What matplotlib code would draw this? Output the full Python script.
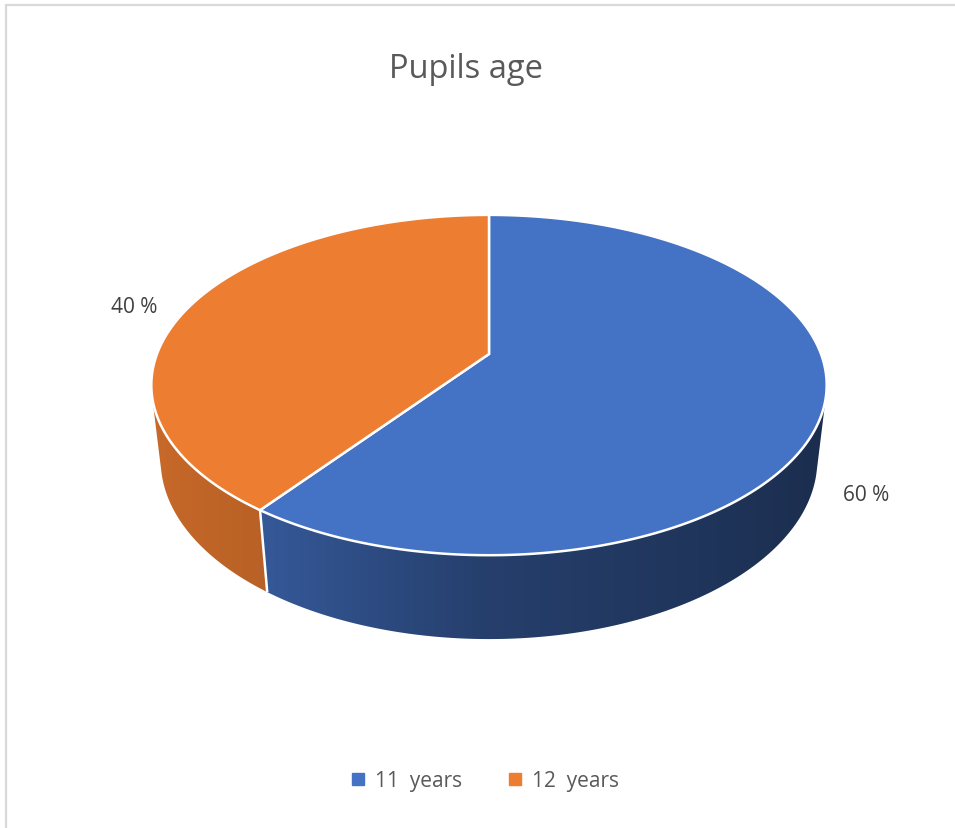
import numpy as np
import matplotlib
matplotlib.use("Agg")
import matplotlib.pyplot as plt
from matplotlib.patches import Polygon, Rectangle
from matplotlib.lines import Line2D
from matplotlib.colors import to_rgb

plt.rcParams['font.family'] = ['Open Sans', 'DejaVu Sans']

# data
categories = ["11  years", "12  years"]
shares = [60, 40]
labels = ["60 %", "40 %"]
colors = ["#4472c4", "#ed7d31"]
title = "Pupils age"

# 3-D view settings (unit-radius disc seen from above with perspective)
tilt = np.radians(29.7)
dist = 4.76
thick = 0.265

def project(theta, y, r=1.0):
    X = r * np.sin(theta)
    Z = r * np.cos(theta)
    up = y * np.cos(tilt) + Z * np.sin(tilt)
    depth = dist + Z * np.cos(tilt) - y * np.sin(tilt)
    return X * dist / depth, up * dist / depth

def shade(theta):
    s = np.sin(theta)
    return np.interp(s, [-1.0, -0.588, 0.0, 1.0], [0.85, 0.78, 0.55, 0.39])

W, H = 955, 829
fig = plt.figure(figsize=(W / 100, H / 100), dpi=100)
fig.patch.set_facecolor("white")

# chart-area frame
fig.patches.append(Rectangle((6 / W, -0.1), 1.2, (H - 6) / H + 0.1,
                             transform=fig.transFigure, fill=False,
                             edgecolor="#d9d9d9", linewidth=1.6))

scale = 332.0
cx, cy = 489.0, 355.0
x0, x1, y0, y1 = 80, 900, 190, 720
ax = fig.add_axes([x0 / W, (H - y1) / H, (x1 - x0) / W, (y1 - y0) / H])
xlim = ((x0 - cx) / scale, (x1 - cx) / scale)
ylim = ((cy - y1) / scale, (cy - y0) / scale)
ax.set_xlim(*xlim)
ax.set_ylim(*ylim)
ax.axis("off")

fractions = np.array(shares, dtype=float) / np.sum(shares)
bounds = np.concatenate([[0.0], np.cumsum(fractions)]) * 2 * np.pi

# outer wall: visible where the surface faces the camera
t_vis = np.arccos(-1.0 / (dist * np.cos(tilt)))
ncols = 800
col_x = np.linspace(xlim[0], xlim[1], ncols)
for i, col in enumerate(colors):
    a, b = max(bounds[i], t_vis), min(bounds[i + 1], 2 * np.pi - t_vis)
    if a >= b:
        continue
    th = np.linspace(a, b, 300)
    tx, ty = project(th, 0)
    bx, by = project(th, -thick)
    outline = np.column_stack([np.r_[tx, bx[::-1]], np.r_[ty, by[::-1]]])
    clip = Polygon(outline, closed=True, facecolor="none", edgecolor="none")
    ax.add_patch(clip)
    # horizontal gradient: screen x -> angle on the rim -> shade
    order = np.argsort(tx)
    th_at_x = np.interp(col_x, tx[order], th[order])
    rgb = np.clip(np.array(to_rgb(col))[None, :] * shade(th_at_x)[:, None], 0, 1)
    img = np.repeat(rgb[None, :, :], 2, axis=0)
    im = ax.imshow(img, extent=(xlim[0], xlim[1], ylim[0], ylim[1]),
                   aspect="auto", interpolation="bilinear", zorder=2)
    im.set_clip_path(clip)

ax.set_xlim(*xlim)
ax.set_ylim(*ylim)

# wall seams between slices
for t in bounds[1:-1]:
    if t_vis <= t <= 2 * np.pi - t_vis:
        xa, ya = project(t, 0)
        xb, yb = project(t, -thick)
        ax.plot([xa, xb], [ya, yb], color="white", lw=1.8, zorder=3,
                solid_capstyle="butt")

# top faces
for i, col in enumerate(colors):
    th = np.linspace(bounds[i], bounds[i + 1], 300)
    px, py = project(th, 0)
    pts = np.column_stack([np.r_[0.0, px], np.r_[0.0, py]])
    ax.add_patch(Polygon(pts, closed=True, facecolor=col, edgecolor="white",
                         linewidth=1.8, joinstyle="miter", zorder=4))

# data labels, placed just outside the rim
label_radius = [1.15, 1.2]
label_shift = [(0, 0), (0, -7)]
for i, lab in enumerate(labels):
    mid = 0.5 * (bounds[i] + bounds[i + 1])
    yl = -thick if np.cos(mid) < 0 else 0.0
    lx, ly = project(mid, yl, r=label_radius[i])
    ax.annotate(lab, (lx, ly), xytext=label_shift[i], textcoords="offset points",
                ha="center", va="center", fontsize=15, color="#404040", zorder=5)

fig.text(466 / W, (H - 69) / H, title, ha="center", va="center",
         fontsize=23.5, color="#595959")

handles = [Line2D([], [], marker="s", linestyle="none", markersize=8,
                  markerfacecolor=c, markeredgecolor=c) for c in colors]
fig.legend(handles, categories, loc="center", bbox_to_anchor=(483 / W, (H - 782) / H),
           ncol=2, frameon=False, fontsize=15, labelcolor="#595959",
           handletextpad=0.3, columnspacing=2.05, handlelength=1.0)

fig.savefig("out.png", dpi=100, facecolor="white")
